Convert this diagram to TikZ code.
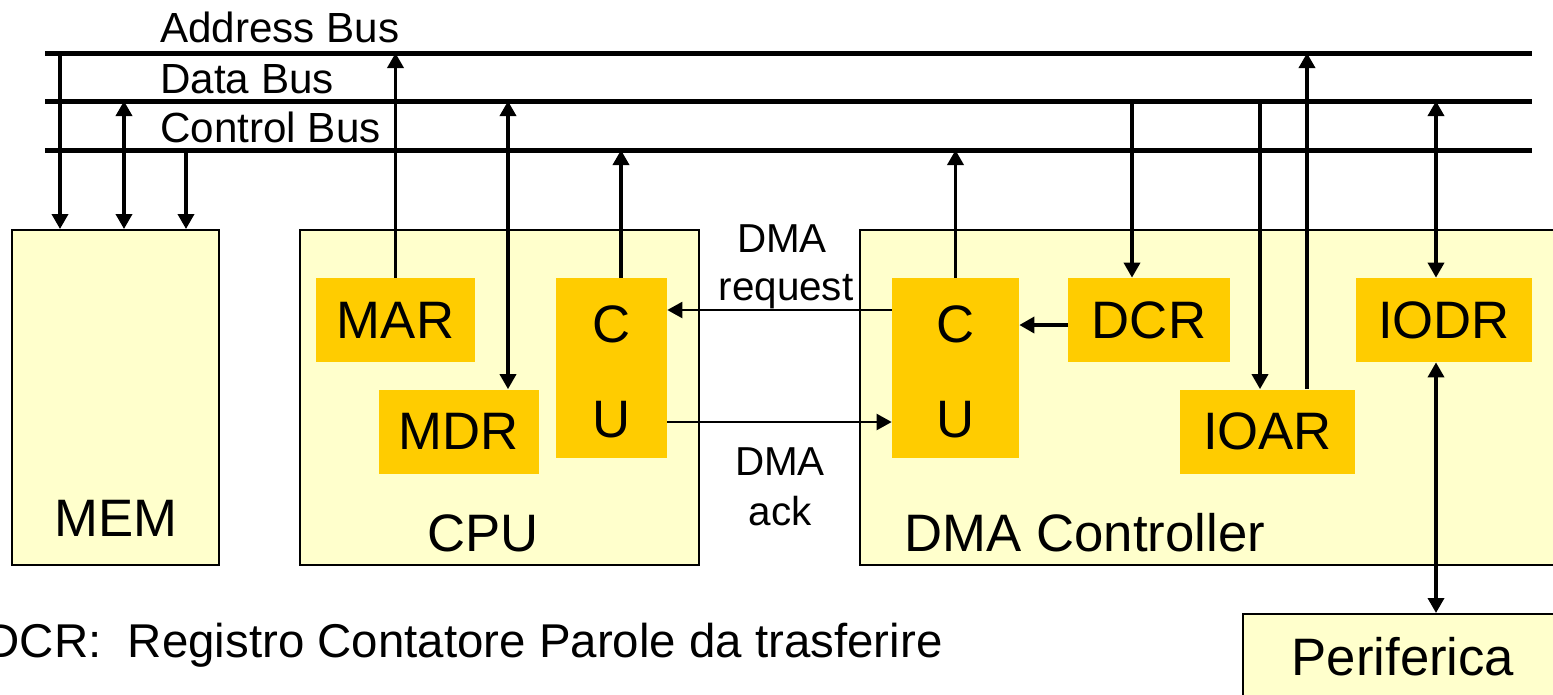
\documentclass[tikz,border=0pt]{standalone}
\usepackage{fontspec}
\setmainfont{Liberation Sans}
\usepackage{tikz}
\usetikzlibrary{arrows.meta, positioning}
\definecolor{boxfill}{RGB}{255,255,204}
\definecolor{regfill}{RGB}{255,204,0}

\tikzset{
  unit/.style={draw=black, line width=0.04cm, fill=boxfill, inner sep=0pt},
  reg/.style={fill=regfill, inner sep=0pt, minimum height=1.68cm, font=\fontsize{30}{36}\selectfont},
  bus/.style={line width=0.1cm},
  conn/.style={line width=0.07cm},
  sig/.style={line width=0.045cm},
  lbl/.style={anchor=base, inner sep=0pt, font=\fontsize{30}{36}\selectfont},
  buslbl/.style={anchor=base west, inner sep=0pt, font=\fontsize{24}{28}\selectfont},
  siglbl/.style={anchor=base, inner sep=0pt, font=\fontsize{23}{27}\selectfont},
}

\begin{document}
\begin{tikzpicture}[x=0.02cm, y=-0.02cm, >={Triangle[length=0.3cm, width=0.32cm]}]
  \useasboundingbox (0,0) rectangle (1553,694);

  % buses
  \coordinate (abus) at (45,53);   \coordinate (abusend) at (1532,53);
  \coordinate (dbus) at (45,101);  \coordinate (dbusend) at (1532,101);
  \coordinate (cbus) at (45,150);  \coordinate (cbusend) at (1532,150);
  \draw[bus] (abus) -- (abusend);
  \draw[bus] (dbus) -- (dbusend);
  \draw[bus] (cbus) -- (cbusend);
  \node[buslbl] (alabel) at (160,42) {Address Bus};
  \node[buslbl] (dlabel) at (160,93) {Data Bus};
  \node[buslbl] (clabel) at (160,142) {Control Bus};

  % units
  \node[unit, minimum width=4.14cm, minimum height=6.7cm] (mem) at (115.5,397.5) {};
  \node[unit, minimum width=7.98cm, minimum height=6.7cm] (cpu) at (499.5,397.5) {};
  \node[unit, minimum width=14.1cm, minimum height=6.7cm] (dma) at (1212.5,397.5) {};
  \node[unit, minimum width=6.44cm, minimum height=1.82cm] (per) at (1404,659.5) {};
  \node[lbl] (memlbl) at (116,536) {MEM};
  \node[lbl] (cpulbl) at (483,551) {CPU};
  \node[lbl] (dmalbl) at (1085,551) {DMA Controller};
  \node[lbl] (perlbl) at (1403,675) {Periferica};

  % registers
  \node[reg, minimum width=3.18cm] (mar) at (395.5,320) {MAR};
  \node[reg, minimum width=3.2cm] (mdr) at (459,431.5) {MDR};
  \node[reg, minimum width=2.22cm, minimum height=3.6cm] (cucpu) at (611.5,368) {};
  \node[reg, minimum width=2.54cm, minimum height=3.6cm] (cudma) at (955.5,368) {};
  \node[reg, minimum width=3.24cm] (dcr) at (1149,320) {DCR};
  \node[reg, minimum width=3.5cm] (ioar) at (1267.5,431.5) {IOAR};
  \node[reg, minimum width=3.52cm] (iodr) at (1444,320) {IODR};
  \node[lbl] (cpuc) at (611.5,342) {C};
  \node[lbl] (cpuu) at (611.5,437) {U};
  \node[lbl] (dmac) at (955.5,342) {C};
  \node[lbl] (dmau) at (955.5,437) {U};

  % memory to buses
  \draw[conn, ->] (60,0 |- abus) -- (60,0 |- mem.north);
  \draw[conn, <->] (124,0 |- dbus) -- (124,0 |- mem.north);
  \draw[conn, ->] (186,0 |- cbus) -- (186,0 |- mem.north);

  % cpu to buses
  \draw[conn, ->] (mar.north) -- (mar.north |- abus);
  \draw[conn, <->] (508,0 |- dbus) -- (508,0 |- mdr.north);
  \draw[conn, ->] (621,0 |- cucpu.north) -- (621,0 |- cbus);

  % dma controller to buses
  \draw[conn, ->] (cudma.north) -- (cudma.north |- cbus);
  \draw[conn, ->] (1132,0 |- dbus) -- (1132,0 |- dcr.north);
  \draw[conn, ->] (dcr.west |- 0,325) -- (cudma.east |- 0,325);
  \draw[conn, ->] (1260,0 |- dbus) -- (1260,0 |- ioar.north);
  \draw[conn, ->] (1307,0 |- ioar.north) -- (1307,0 |- abus);
  \draw[conn, <->] (1436,0 |- dbus) -- (1436,0 |- iodr.north);
  \draw[conn, <->] (1436,0 |- iodr.south) -- (1436,0 |- per.north);

  % handshake
  \draw[sig, ->] (cudma.west |- 0,310) -- (cucpu.east |- 0,310);
  \draw[sig, ->] (cucpu.east |- 0,422) -- (cudma.west |- 0,422);
  \node[siglbl] (req1) at (782,252) {DMA};
  \node[siglbl] (req2) at (786,300) {request};
  \node[siglbl] (ack1) at (780,475) {DMA};
  \node[siglbl] (ack2) at (780,525) {ack};

  \node[anchor=base east, inner sep=0pt, font=\fontsize{27}{32}\selectfont] (note) at (943,657) {DCR:\ \ Registro Contatore Parole da trasferire};
\end{tikzpicture}
\end{document}
